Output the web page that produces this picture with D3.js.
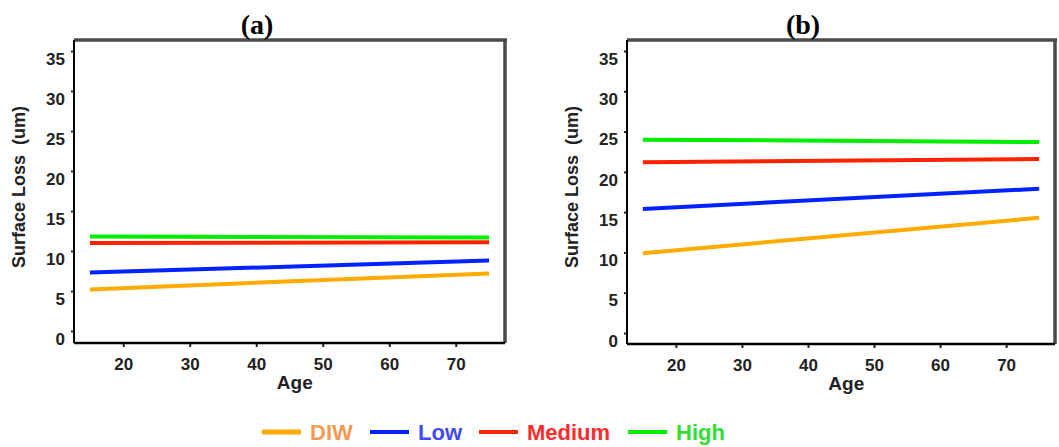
<!DOCTYPE html>
<html>
<head>
<meta charset="utf-8">
<script src="https://cdn.jsdelivr.net/npm/d3@7"></script>
<style>
  body { margin: 0; background: #fff; }
  svg { display: block; }
</style>
</head>
<body>
<div id="chart"></div>
<script>
// Surface loss vs age, two panels with a shared legend

const WIDTH = 1059
const HEIGHT = 447

// line end points (age)
const ages = [15, 75]
const seriesNames = ["DIW", "Low", "Medium", "High"]
const seriesColors = ["#ffaa00", "#0022ff", "#ff2200", "#00ee00"]
const legendTextColors = ["#f39a52", "#3f4cf4", "#ff2a2a", "#33dd33"]

// panel (a) values at age 15 and 75
const aDIW = [5.2, 7.2]
const aLow = [7.3, 8.8]
const aMedium = [11.0, 11.1]
const aHigh = [11.8, 11.7]

// panel (b) values at age 15 and 75
const bDIW = [9.9, 14.3]
const bLow = [15.4, 17.9]
const bMedium = [21.2, 21.6]
const bHigh = [24.0, 23.7]

const xTicks = [20, 30, 40, 50, 60, 70]
const yTicks = [0, 5, 10, 15, 20, 25, 30, 35]

const panels = [
  { title: "(a)", values: [aDIW, aLow, aMedium, aHigh], left: 74, right: 505, top: 40, bottom: 343, zero: 331, titleX: 257 },
  { title: "(b)", values: [bDIW, bLow, bMedium, bHigh], left: 627, right: 1055, top: 40, bottom: 344, zero: 333, titleX: 803 }
]

const svg = d3.select("#chart")
  .append("svg")
  .attr("width", WIDTH)
  .attr("height", HEIGHT)

const SANS = "Arial, 'Liberation Sans', sans-serif"

panels.forEach(function(p) {
  const x = d3.scaleLinear()
    .domain([12.6, 77.4])
    .range([p.left, p.right])
  // 35 units span from the zero line up to y=51
  const y = d3.scaleLinear()
    .domain([0, 35])
    .range([p.zero, 51])

  const g = svg.append("g")

  // top and right border (gray, heavier)
  g.append("line")
    .attr("x1", p.left).attr("x2", p.right + 2)
    .attr("y1", p.top).attr("y2", p.top)
    .attr("stroke", "#4a4a4a").attr("stroke-width", 3.5)
  g.append("line")
    .attr("x1", p.right).attr("x2", p.right)
    .attr("y1", p.top).attr("y2", p.bottom)
    .attr("stroke", "#4a4a4a").attr("stroke-width", 3.5)

  // y axis
  const yAxis = d3.axisLeft(y)
    .tickValues(yTicks)
    .tickSize(3)
    .tickPadding(6)
  const ya = g.append("g")
    .attr("transform", `translate(${p.left},0)`)
    .call(yAxis)
  ya.select(".domain").remove()
  ya.selectAll(".tick line").attr("stroke", "#222").attr("stroke-width", 2)
  ya.selectAll(".tick text")
    .attr("dy", "0.78em")
    .attr("font-family", SANS)
    .attr("font-weight", "bold")
    .attr("font-size", 17)
    .attr("fill", "#222")
  g.append("line")
    .attr("x1", p.left).attr("x2", p.left)
    .attr("y1", p.top).attr("y2", p.bottom)
    .attr("stroke", "#000").attr("stroke-width", 2)

  // x axis
  const xAxis = d3.axisBottom(x)
    .tickValues(xTicks)
    .tickSize(4)
    .tickPadding(11)
  const xa = g.append("g")
    .attr("transform", `translate(0,${p.bottom})`)
    .call(xAxis)
  xa.select(".domain").remove()
  xa.selectAll(".tick line").attr("stroke", "#222").attr("stroke-width", 2)
  xa.selectAll(".tick text")
    .attr("font-family", SANS)
    .attr("font-weight", "bold")
    .attr("font-size", 17)
    .attr("fill", "#222")
  g.append("line")
    .attr("x1", p.left).attr("x2", p.right)
    .attr("y1", p.bottom).attr("y2", p.bottom)
    .attr("stroke", "#000").attr("stroke-width", 2.5)

  // axis titles
  g.append("text")
    .attr("x", x(45.8))
    .attr("y", p.bottom + 46)
    .attr("text-anchor", "middle")
    .attr("font-family", SANS)
    .attr("font-weight", "bold")
    .attr("font-size", 19)
    .attr("fill", "#222")
    .text("Age")

  g.append("text")
    .attr("transform", `translate(${p.left - 49},187) rotate(-90)`)
    .attr("text-anchor", "middle")
    .attr("font-family", SANS)
    .attr("font-weight", "bold")
    .attr("font-size", 18)
    .attr("fill", "#222")
    .attr("xml:space", "preserve")
    .text("Surface Loss  (um)")

  // panel title
  g.append("text")
    .attr("x", p.titleX)
    .attr("y", 34)
    .attr("text-anchor", "middle")
    .attr("font-family", "'Liberation Serif', 'Times New Roman', serif")
    .attr("font-weight", "bold")
    .attr("font-size", 28)
    .attr("fill", "#000")
    .text(p.title)

  // series lines
  const line = d3.line()
    .x(function(d) { return x(d[0]) })
    .y(function(d) { return y(d[1]) })

  p.values.forEach(function(vals, i) {
    g.append("path")
      .datum(ages.map(function(a, k) { return [a, vals[k]] }))
      .attr("d", line)
      .attr("fill", "none")
      .attr("stroke", seriesColors[i])
      .attr("stroke-width", 4)
  })
})

// legend
const legendX = [262, 370, 479, 628]
const legend = svg.append("g")
seriesNames.forEach(function(name, i) {
  legend.append("line")
    .attr("x1", legendX[i]).attr("x2", legendX[i] + 39)
    .attr("y1", 432).attr("y2", 432)
    .attr("stroke", seriesColors[i])
    .attr("stroke-width", i === 0 ? 5 : 4)
  legend.append("text")
    .attr("x", legendX[i] + 48)
    .attr("y", 440)
    .attr("font-family", SANS)
    .attr("font-weight", "bold")
    .attr("font-size", 22)
    .attr("fill", legendTextColors[i])
    .text(name)
})
</script>
</body>
</html>
